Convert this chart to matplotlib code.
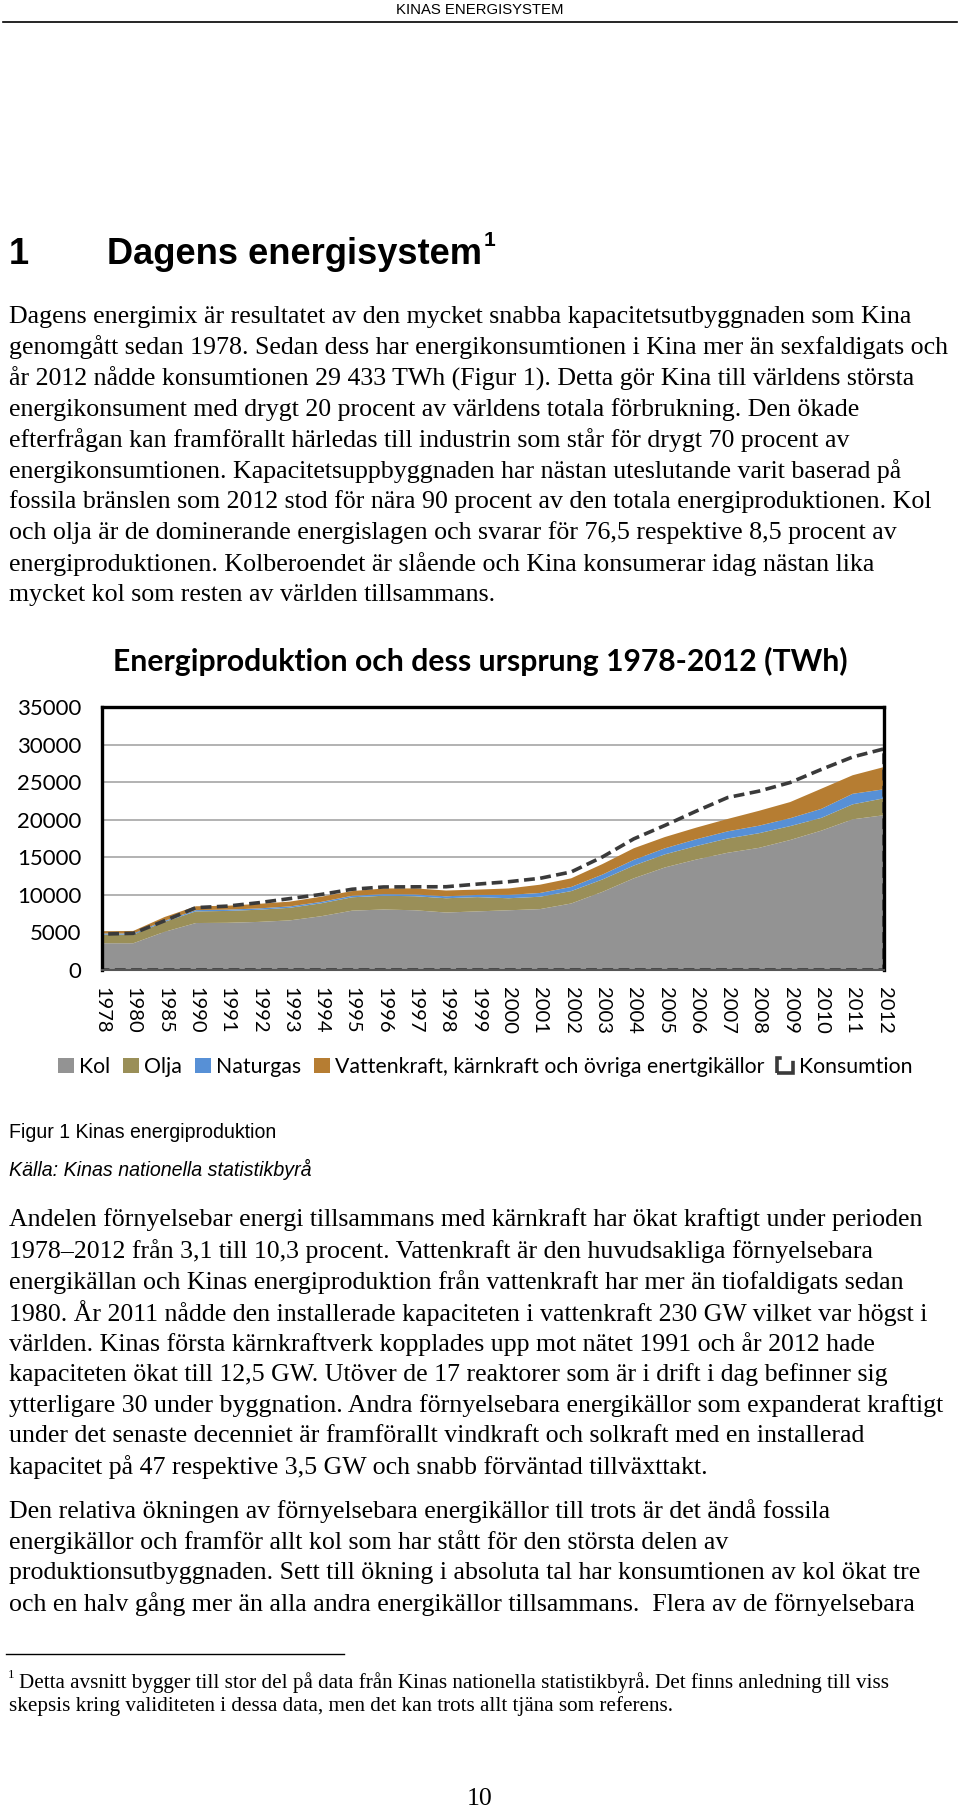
import matplotlib
matplotlib.use("Agg")
import matplotlib.pyplot as plt
import numpy as np

# ---------------- data (TWh) ----------------
years = ["1978", "1980", "1985", "1990", "1991", "1992", "1993", "1994", "1995",
         "1996", "1997", "1998", "1999", "2000", "2001", "2002", "2003", "2004",
         "2005", "2006", "2007", "2008", "2009", "2010", "2011", "2012"]
kol = [3560, 3560, 5080, 6250, 6280, 6400, 6600, 7150, 7900, 8050, 7950, 7650, 7800,
       7950, 8100, 8850, 10400, 12200, 13650, 14700, 15600, 16250, 17300, 18550, 20050, 20600]
olja = [1150, 1150, 1330, 1550, 1580, 1620, 1680, 1720, 1780, 1830, 1870, 1900, 1900,
        1600, 1650, 1650, 1650, 1700, 1750, 1800, 1900, 1950, 1850, 1700, 2000, 2250]
naturgas = [150, 150, 140, 170, 170, 175, 180, 185, 200, 215, 230, 260, 290,
            450, 500, 550, 650, 750, 800, 900, 950, 1000, 1050, 1200, 1400, 1200]
vattenkraft = [290, 340, 500, 510, 520, 605, 640, 695, 620, 755, 810, 770, 710,
               850, 1100, 1150, 1400, 1550, 1500, 1550, 1650, 1980, 2150, 2680, 2470, 2960]
konsumtion = [4780, 4880, 6550, 8300, 8500, 8950, 9500, 10050, 10750, 11050, 11070, 11080, 11430,
              11750, 12200, 13050, 15050, 17450, 19250, 21150, 22950, 23800, 24950, 26700, 28350, 29430]
series_names = ["Kol", "Olja", "Naturgas",
                "Vattenkraft, kärnkraft och övriga enertgikällor", "Konsumtion"]
yticks = [0, 5000, 10000, 15000, 20000, 25000, 30000, 35000]
chart_title = "Energiproduktion och dess ursprung 1978-2012 (TWh)"

header = "KINAS ENERGISYSTEM"
heading_num = "1"
heading = "Dagens energisystem"
para1 = [
    "Dagens energimix är resultatet av den mycket snabba kapacitetsutbyggnaden som Kina",
    "genomgått sedan 1978. Sedan dess har energikonsumtionen i Kina mer än sexfaldigats och",
    "år 2012 nådde konsumtionen 29 433 TWh (Figur 1). Detta gör Kina till världens största",
    "energikonsument med drygt 20 procent av världens totala förbrukning. Den ökade",
    "efterfrågan kan framförallt härledas till industrin som står för drygt 70 procent av",
    "energikonsumtionen. Kapacitetsuppbyggnaden har nästan uteslutande varit baserad på",
    "fossila bränslen som 2012 stod för nära 90 procent av den totala energiproduktionen. Kol",
    "och olja är de dominerande energislagen och svarar för 76,5 respektive 8,5 procent av",
    "energiproduktionen. Kolberoendet är slående och Kina konsumerar idag nästan lika",
    "mycket kol som resten av världen tillsammans.",
]
fig_caption = "Figur 1 Kinas energiproduktion"
source = "Källa: Kinas nationella statistikbyrå"
para2 = [
    "Andelen förnyelsebar energi tillsammans med kärnkraft har ökat kraftigt under perioden",
    "1978–2012 från 3,1 till 10,3 procent. Vattenkraft är den huvudsakliga förnyelsebara",
    "energikällan och Kinas energiproduktion från vattenkraft har mer än tiofaldigats sedan",
    "1980. År 2011 nådde den installerade kapaciteten i vattenkraft 230 GW vilket var högst i",
    "världen. Kinas första kärnkraftverk kopplades upp mot nätet 1991 och år 2012 hade",
    "kapaciteten ökat till 12,5 GW. Utöver de 17 reaktorer som är i drift i dag befinner sig",
    "ytterligare 30 under byggnation. Andra förnyelsebara energikällor som expanderat kraftigt",
    "under det senaste decenniet är framförallt vindkraft och solkraft med en installerad",
    "kapacitet på 47 respektive 3,5 GW och snabb förväntad tillväxttakt.",
]
para3 = [
    "Den relativa ökningen av förnyelsebara energikällor till trots är det ändå fossila",
    "energikällor och framför allt kol som har stått för den största delen av",
    "produktionsutbyggnaden. Sett till ökning i absoluta tal har konsumtionen av kol ökat tre",
    "och en halv gång mer än alla andra energikällor tillsammans.  Flera av de förnyelsebara",
]
footnote = [
    "Detta avsnitt bygger till stor del på data från Kinas nationella statistikbyrå. Det finns anledning till viss",
    "skepsis kring validiteten i dessa data, men det kan trots allt tjäna som referens.",
]
page_no = "10"

# ---------------- figure ----------------
W, H, DPI = 960, 1811, 100
fig = plt.figure(figsize=(W / DPI, H / DPI), dpi=DPI)
fig.patch.set_facecolor("white")
renderer = fig.canvas.get_renderer()


def fx(x):
    return x / W


def fy(y):
    return 1 - y / H


def fit(s, width, **kw):
    t = fig.text(0, 0, s, fontsize=10, **kw)
    w = t.get_window_extent(renderer).width
    t.remove()
    return 10 * width / w


def put(x, y, s, size, **kw):
    kw.setdefault("ha", "left")
    kw.setdefault("va", "center")
    return fig.text(fx(x), fy(y), s, fontsize=size, **kw)


SERIF = "Liberation Serif"
SANS = "Liberation Sans"
CHART = "Lato"

# header
put(480, 10, header, fit(header, 167, family=SANS), family=SANS, ha="center")
fig.add_artist(plt.Line2D([fx(3), fx(957)], [fy(22), fy(22)], color="black", lw=1.2))

# heading
hsize = fit(heading, 376, family=SANS, weight="bold")
put(9, 254, heading_num, hsize, family=SANS, weight="bold")
th = put(107, 254, heading, hsize, family=SANS, weight="bold")
ext = th.get_window_extent(renderer)
put(ext.x1 + 2, 241, "1", hsize * 0.58, family=SANS, weight="bold")

# body text
bsize = fit(para1[1], 939, family=SERIF)
for i, line in enumerate(para1):
    put(9, 316.5 + i * 30.9, line, bsize, family=SERIF)
for i, line in enumerate(para2):
    put(9, 1220 + i * 30.9, line, bsize, family=SERIF)
for i, line in enumerate(para3):
    put(9, 1511 + i * 31.0, line, bsize, family=SERIF)

# caption & source
put(9, 1132, fig_caption, fit(fig_caption, 267, family=SANS), family=SANS)
put(9, 1169, source, fit(source, 303, family=SANS, style="italic"), family=SANS, style="italic")

# footnote
fig.add_artist(plt.Line2D([fx(6), fx(344)], [fy(1654), fy(1654)], color="black", lw=1.0))
fsize = fit(footnote[0], 872, family=SERIF)
put(8, 1675, "1", fsize * 0.62, family=SERIF)
put(19, 1683, footnote[0], fsize, family=SERIF)
put(9, 1706, footnote[1], fsize, family=SERIF)

# page number
put(480, 1799, page_no, bsize, family=SERIF, ha="center")

# ---------------- chart ----------------
ax = fig.add_axes([fx(102), fy(970), (884 - 102) / W, (970 - 707) / H])
x = np.arange(len(years))
colors = ["#939393", "#9a8f58", "#5790d6", "#b67d32"]
ax.stackplot(x, kol, olja, naturgas, vattenkraft, colors=colors,
             labels=series_names[:4], linewidth=0, zorder=2)
ax.fill_between(x, 0, konsumtion, facecolor="none", edgecolor="#3a3a3a",
                linewidth=2.6, linestyle=(0, (3.0, 1.5)), label=series_names[4], zorder=2.3)
ax.set_xlim(0, len(years) - 1)
ax.set_ylim(0, 35000)
ax.set_yticks(yticks)
ax.set_yticklabels([str(v) for v in yticks], family=CHART, fontsize=16)
ax.set_xticks(x)
ax.set_xticklabels(years, rotation=-90, family=CHART, fontsize=14.5)
ax.tick_params(axis="both", length=0)
ax.tick_params(axis="y", pad=15)
ax.tick_params(axis="x", pad=12)
ax.yaxis.grid(True, color="#a6a6a6", lw=1.2)
ax.set_axisbelow(True)
for side, sp in ax.spines.items():
    sp.set_color("black")
    sp.set_linewidth(2.4)
ax.spines["bottom"].set_color("#555555")
ax.spines["bottom"].set_linewidth(1.5)

tsize = fit(chart_title, 737, family=CHART, weight="bold")
put(480, 661, chart_title, tsize, family=CHART, weight="bold", ha="center")

handles, labels = ax.get_legend_handles_labels()
leg = fig.legend(handles, labels, loc="center", bbox_to_anchor=(fx(485), fy(1067)),
                 ncol=5, frameon=False, handlelength=0.75, handleheight=0.75,
                 handletextpad=0.25, columnspacing=0.6, borderaxespad=0,
                 prop={"family": CHART, "size": 15.3})

fig.savefig("out.png", dpi=DPI, facecolor="white")
